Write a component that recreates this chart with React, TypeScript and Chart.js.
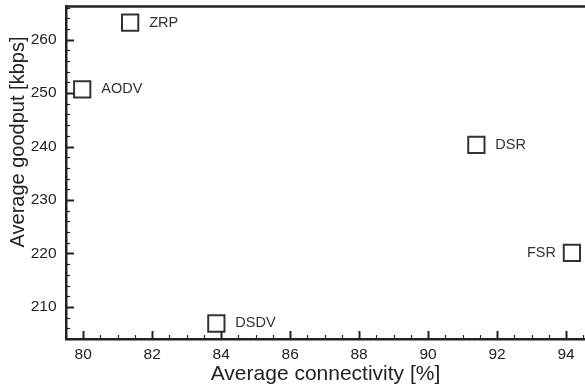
import React, { useEffect, useRef } from "react";
import { Chart, registerables } from "chart.js";

Chart.register(...registerables);

const protocols = ["ZRP", "AODV", "DSR", "FSR", "DSDV"];
const connectivity = [81.36, 79.97, 91.4, 94.17, 83.86];
const goodput = [263.2, 250.7, 240.3, 220.1, 206.9];
const labelSide = ["right", "right", "right", "left", "right"];
const xTicks = [80, 82, 84, 86, 88, 90, 92, 94];
const yTicks = [210, 220, 230, 240, 250, 260];
const xTitle = "Average connectivity [%]";
const yTitle = "Average goodput [kbps]";

const INK = "#222";
const FONT = "'Liberation Sans', Arial, Helvetica, sans-serif";

const decorPlugin = {
  id: "decor",
  afterDatasetsDraw(chart: any) {
    const ctx = chart.ctx;
    const area = chart.chartArea;
    const xs = chart.scales.x;
    const ys = chart.scales.y;
    ctx.save();
    // top frame line
    ctx.strokeStyle = INK;
    ctx.lineWidth = 2.5;
    ctx.beginPath();
    ctx.moveTo(area.left, area.top);
    ctx.lineTo(area.right, area.top);
    ctx.stroke();
    // x ticks (inward)
    for (let v = 79.5; v <= xs.max + 1e-6; v += 0.5) {
      const major = Math.abs(v / 2 - Math.round(v / 2)) < 1e-6;
      const px = Math.round(xs.getPixelForValue(v)) + 0.5;
      if (px < area.left + 2) continue;
      ctx.lineWidth = major ? 2 : 1.2;
      ctx.beginPath();
      ctx.moveTo(px, area.bottom);
      ctx.lineTo(px, area.bottom - (major ? 8 : 4));
      ctx.stroke();
    }
    // y ticks (inward)
    for (let v = 206; v <= ys.max + 1e-6; v += 2) {
      const major = v % 10 === 0;
      const py = Math.round(ys.getPixelForValue(v)) + 0.5;
      ctx.lineWidth = major ? 2 : 1.2;
      ctx.beginPath();
      ctx.moveTo(area.left, py);
      ctx.lineTo(area.left + (major ? 8 : 4), py);
      ctx.stroke();
    }
    // point labels
    const meta = chart.getDatasetMeta(0);
    ctx.fillStyle = "#333";
    ctx.font = `14.5px ${FONT}`;
    ctx.textBaseline = "middle";
    meta.data.forEach((pt: any, i: number) => {
      if (labelSide[i] === "left") {
        ctx.textAlign = "right";
        ctx.fillText(protocols[i], pt.x - 16, pt.y);
      } else {
        ctx.textAlign = "left";
        ctx.fillText(protocols[i], pt.x + 19, pt.y);
      }
    });
    // axis titles
    ctx.fillStyle = INK;
    ctx.font = `21px ${FONT}`;
    ctx.textAlign = "center";
    ctx.textBaseline = "middle";
    ctx.fillText(xTitle, (area.left + area.right) / 2, 374);
    ctx.translate(18, 142);
    ctx.rotate(-Math.PI / 2);
    ctx.font = `20px ${FONT}`;
    ctx.fillText(yTitle, 0, 0);
    ctx.restore();
  },
};

export default function App() {
  const ref = useRef<HTMLCanvasElement>(null);
  useEffect(() => {
    if (!ref.current) return;
    const chart = new Chart(ref.current, {
      type: "scatter",
      data: {
        datasets: [
          {
            data: connectivity.map((x, i) => ({ x, y: goodput[i] })),
            pointStyle: "rect",
            pointRadius: 11.5,
            pointHoverRadius: 11.5,
            borderColor: "#333",
            backgroundColor: "#fff",
            borderWidth: 2,
          },
        ],
      },
      options: {
        animation: false,
        responsive: true,
        maintainAspectRatio: false,
        layout: { autoPadding: false, padding: { top: 6.5, right: 0, left: 0, bottom: 0 } },
        plugins: { legend: { display: false }, tooltip: { enabled: false } },
        scales: {
          x: {
            type: "linear",
            min: 79.5,
            max: 94.55,
            afterFit: (s: any) => {
              s.height = 51;
              s.paddingLeft = 0;
              s.paddingRight = 0;
            },
            afterBuildTicks: (s: any) => {
              s.ticks = xTicks.map((v) => ({ value: v }));
            },
            grid: { display: false },
            border: { display: true, color: INK, width: 2.5 },
            ticks: {
              color: INK,
              font: { family: FONT, size: 15.5 },
              padding: -2,
              maxRotation: 0,
              callback: (v: any) => String(v),
            },
          },
          y: {
            type: "linear",
            min: 204,
            max: 266.2,
            afterFit: (s: any) => {
              s.width = 66;
              s.paddingTop = 0;
              s.paddingBottom = 0;
            },
            afterBuildTicks: (s: any) => {
              s.ticks = yTicks.map((v) => ({ value: v }));
            },
            grid: { display: false },
            border: { display: true, color: INK, width: 2.5 },
            ticks: {
              color: INK,
              font: { family: FONT, size: 15.5 },
              padding: 1.5,
              callback: (v: any) => String(v),
            },
          },
        },
      },
      plugins: [decorPlugin],
    });
    return () => chart.destroy();
  }, []);
  return (
    <div style={{ position: "absolute", left: 0, top: 0, width: 585, height: 390, background: "#fff" }}>
      <canvas ref={ref} />
    </div>
  );
}
